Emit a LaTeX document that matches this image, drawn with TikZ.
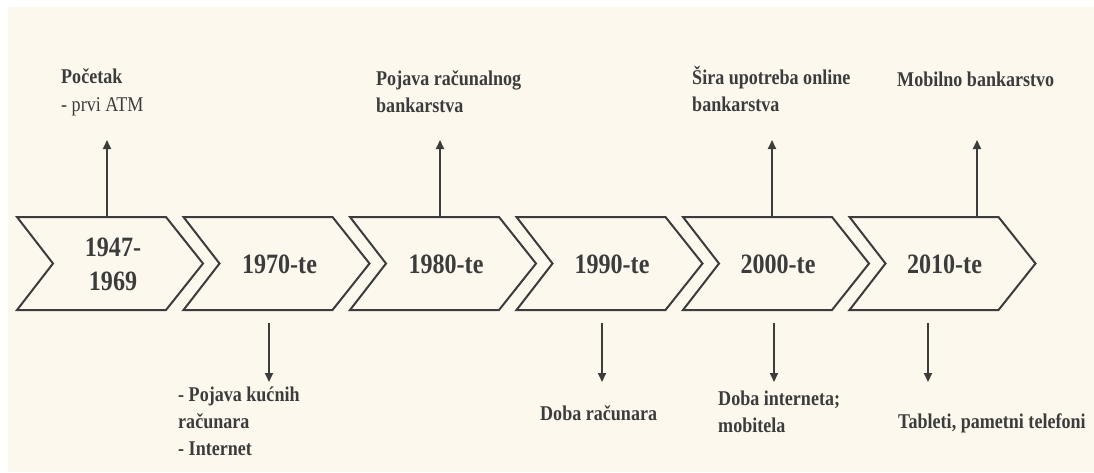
\documentclass[tikz,border=0pt]{standalone}
\usepackage{fontspec}
\setmainfont{Liberation Serif}[FakeStretch=0.86]
\usetikzlibrary{arrows.meta}
\definecolor{bg}{RGB}{252,248,238}
\definecolor{ink}{RGB}{60,60,60}
\begin{document}
\begin{tikzpicture}[x=1pt,y=-1pt,
  chev/.style={draw=ink, line width=2pt, line join=miter},
  yr/.style={font=\fontsize{28}{34}\selectfont\bfseries, text=ink, align=center, inner sep=0},
  lbl/.style={font=\fontsize{21}{27}\selectfont\bfseries, text=ink, align=left, inner sep=0, anchor=base west},
  arr/.style={draw=ink, line width=1.8pt, -{Triangle[length=9pt,width=8pt]}}]
\useasboundingbox (0,0) rectangle (1094,472);
\fill[bg] (8,7) rectangle (1094,472);
% chevrons
\foreach \x in {17,183.5,350,516.5,683,849.5}
  \draw[chev] (\x,217) -- ++(149,0) -- ++(37,46.5) -- ++(-37,46.5) -- ++(-149,0) -- ++(36,-46.5) -- cycle;
% year labels
\node[yr] (y1) at (113,264) {1947-\\1969};
\node[yr] (y2) at (279.5,264) {1970-te};
\node[yr] (y3) at (446,264) {1980-te};
\node[yr] (y4) at (612,264) {1990-te};
\node[yr] (y5) at (778,264) {2000-te};
\node[yr] (y6) at (944.5,264) {2010-te};
% top labels (anchored at the baseline of their last line)
\node[lbl] (t1) at (61,111) {Početak\\[1pt]{\mdseries - prvi ATM}};
\node[lbl] (t3) at (376,112) {Pojava računalnog\\bankarstva};
\node[lbl] (t5) at (692,111) {Šira upotreba online\\bankarstva};
\node[lbl] (t6) at (897,86) {Mobilno bankarstvo};
% bottom labels
\node[lbl] (b2) at (178,455) {- Pojava kućnih\\računara\\- Internet};
\node[lbl] (b4) at (540,420) {Doba računara};
\node[lbl] (b5) at (718,432) {Doba interneta;\\mobitela};
\node[lbl] (b6) at (898,428) {Tableti, pametni telefoni};
% arrow ends
\coordinate (u1s) at (107,217); \coordinate (u1e) at (107,140);
\coordinate (u3s) at (440,217); \coordinate (u3e) at (440,140);
\coordinate (u5s) at (772,217); \coordinate (u5e) at (772,140);
\coordinate (u6s) at (977,217); \coordinate (u6e) at (977,140);
\coordinate (d2s) at (269,323); \coordinate (d2e) at (269,382);
\coordinate (d4s) at (602,323); \coordinate (d4e) at (602,382);
\coordinate (d5s) at (774,323); \coordinate (d5e) at (774,382);
\coordinate (d6s) at (928,323); \coordinate (d6e) at (928,382);
\foreach \a in {u1,u3,u5,u6,d2,d4,d5,d6}
  \draw[arr] (\a s) -- (\a e);
\end{tikzpicture}
\end{document}
